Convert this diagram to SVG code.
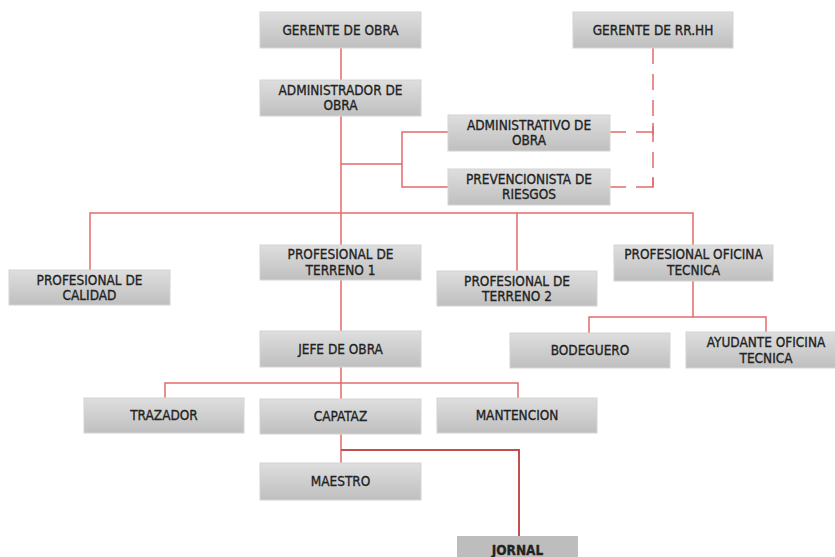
<svg xmlns="http://www.w3.org/2000/svg" width="835" height="557" viewBox="0 0 835 557">
<defs>
<linearGradient id="g" x1="0" y1="0" x2="0" y2="1">
<stop offset="0" stop-color="#dedede"/>
<stop offset="1" stop-color="#bfbfbf"/>
</linearGradient>
<style>
.b{fill:url(#g);stroke:#d4d4d4;stroke-width:1}
.f{fill:#bdbdbd;stroke:none}
.t{font-family:"DejaVu Sans Condensed","DejaVu Sans",sans-serif;font-stretch:condensed;font-size:13.5px;fill:#222;stroke:#222;stroke-width:0.3;text-anchor:middle}
.c{fill:none;stroke:#e26b6b;stroke-width:1.5}
.d{fill:none;stroke:#e26b6b;stroke-width:1.5;stroke-dasharray:16 10}
.k{fill:none;stroke:#c0504d;stroke-width:2}
</style>
</defs>
<rect width="835" height="557" fill="#fff"/>
<g id="connectors">
<path class="c" d="M341 48V80M341 116V245M341 164H402M448 132H402V187H448"/>
<path class="c" d="M90 270V213H693V245M517 213V271"/>
<path class="c" d="M693 281V317M589 333V317H766V332"/>
<path class="c" d="M341 280V331M341 367V399M165 398V383H518V398M341 434V463"/>
<path class="k" d="M341 450H519V536"/>
<path class="d" d="M653 48V187"/>
<path class="c" d="M610 132H626M636 132H653M653 123V135M610 187H626M636 187H653V177"/>
</g>
<g id="gerente_obra"><rect class="b" x="260" y="12" width="161" height="36"/><text class="t" x="340.5" y="35">GERENTE DE OBRA</text></g>
<g id="gerente_rrhh"><rect class="b" x="573" y="12" width="160" height="36"/><text class="t" x="653" y="35">GERENTE DE RR.HH</text></g>
<g id="administrador"><rect class="b" x="260" y="80" width="161" height="36"/><text class="t" x="340.5" y="95">ADMINISTRADOR DE</text><text class="t" x="340.5" y="110">OBRA</text></g>
<g id="administrativo"><rect class="b" x="448" y="115" width="162" height="36"/><text class="t" x="529" y="130">ADMINISTRATIVO DE</text><text class="t" x="529" y="145">OBRA</text></g>
<g id="prevencionista"><rect class="b" x="448" y="169" width="162" height="36"/><text class="t" x="529" y="184">PREVENCIONISTA DE</text><text class="t" x="529" y="199">RIESGOS</text></g>
<g id="calidad"><rect class="b" x="9" y="270" width="161" height="35"/><text class="t" x="89.5" y="285">PROFESIONAL DE</text><text class="t" x="89.5" y="300">CALIDAD</text></g>
<g id="terreno1"><rect class="b" x="260" y="245" width="161" height="35"/><text class="t" x="340.5" y="259">PROFESIONAL DE</text><text class="t" x="340.5" y="275">TERRENO 1</text></g>
<g id="terreno2"><rect class="b" x="437" y="271" width="160" height="35"/><text class="t" x="517" y="286">PROFESIONAL DE</text><text class="t" x="517" y="301">TERRENO 2</text></g>
<g id="oficina_tecnica"><rect class="b" x="614" y="245" width="159" height="36"/><text class="t" x="693.5" y="259">PROFESIONAL OFICINA</text><text class="t" x="693.5" y="275">TECNICA</text></g>
<g id="bodeguero"><rect class="b" x="510" y="333" width="160" height="35"/><text class="t" x="590" y="355">BODEGUERO</text></g>
<g id="ayudante"><rect class="b" x="686" y="332" width="160" height="36"/><text class="t" x="766" y="347">AYUDANTE OFICINA</text><text class="t" x="766" y="363">TECNICA</text></g>
<g id="jefe_obra"><rect class="b" x="260" y="331" width="161" height="36"/><text class="t" x="340.5" y="354">JEFE DE OBRA</text></g>
<g id="trazador"><rect class="b" x="84" y="398" width="160" height="35"/><text class="t" x="164" y="420">TRAZADOR</text></g>
<g id="capataz"><rect class="b" x="260" y="399" width="161" height="35"/><text class="t" x="340.5" y="421">CAPATAZ</text></g>
<g id="mantencion"><rect class="b" x="437" y="398" width="160" height="35"/><text class="t" x="517" y="420">MANTENCION</text></g>
<g id="maestro"><rect class="b" x="260" y="463" width="161" height="37"/><text class="t" x="340.5" y="486">MAESTRO</text></g>
<g id="jornal"><rect class="f" x="457" y="536" width="121" height="30"/><text class="t" x="517.5" y="555" style="font-weight:bold">JORNAL</text></g>
</svg>
